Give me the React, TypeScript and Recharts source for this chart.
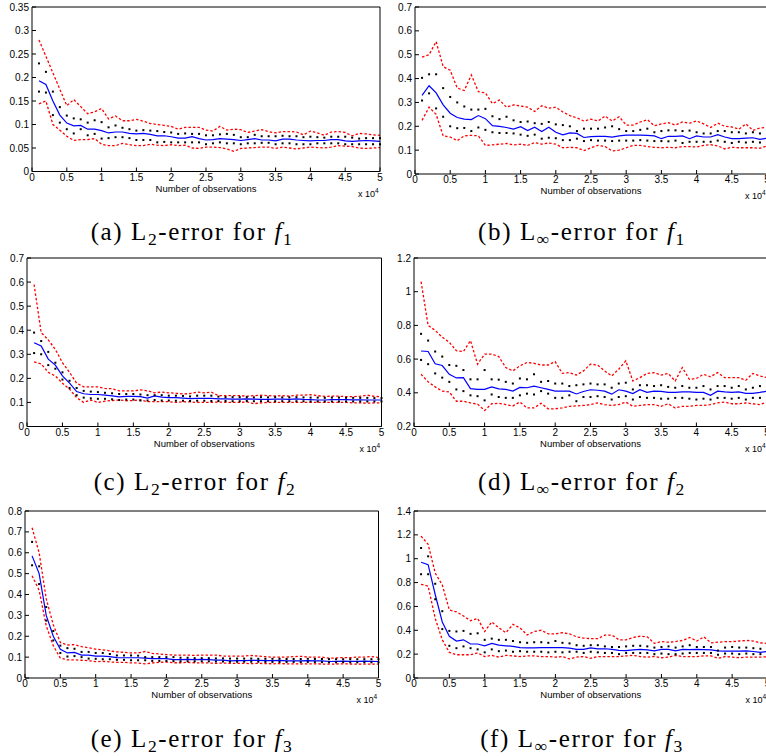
import React from 'react';
import { LineChart, Line, XAxis, YAxis, Label } from 'recharts';

// number of observations, in units of 10^4
const obs = [
  0.1, 0.2, 0.3, 0.4, 0.5, 0.6, 0.7, 0.8, 0.9, 1.0,
  1.1, 1.2, 1.3, 1.4, 1.5, 1.6, 1.7, 1.8, 1.9, 2.0,
  2.1, 2.2, 2.3, 2.4, 2.5, 2.6, 2.7, 2.8, 2.9, 3.0,
  3.1, 3.2, 3.3, 3.4, 3.5, 3.6, 3.7, 3.8, 3.9, 4.0,
  4.1, 4.2, 4.3, 4.4, 4.5, 4.6, 4.7, 4.8, 4.9, 5.0,
];
const xTicks = [0, 0.5, 1, 1.5, 2, 2.5, 3, 3.5, 4, 4.5, 5];

// (a) L2-error for f1
const aMean = [0.193,0.185,0.150,0.120,0.103,0.097,0.098,0.090,0.090,0.087, 0.082,0.084,0.084,0.081,0.080,0.081,0.079,0.076,0.076,0.074, 0.071,0.071,0.074,0.070,0.067,0.068,0.070,0.069,0.068,0.066, 0.068,0.070,0.067,0.067,0.065,0.069,0.069,0.067,0.066,0.065, 0.066,0.066,0.068,0.068,0.065,0.064,0.065,0.066,0.065,0.064];
const aRedHi = [0.280,0.245,0.210,0.175,0.140,0.153,0.138,0.123,0.127,0.134, 0.112,0.118,0.108,0.108,0.111,0.107,0.102,0.100,0.098,0.096, 0.090,0.094,0.094,0.094,0.088,0.086,0.096,0.088,0.090,0.089, 0.083,0.086,0.089,0.085,0.082,0.085,0.085,0.084,0.078,0.086, 0.082,0.077,0.084,0.085,0.083,0.076,0.081,0.080,0.078,0.077];
const aRedLo = [0.144,0.150,0.100,0.088,0.075,0.066,0.068,0.068,0.070,0.058, 0.055,0.055,0.060,0.057,0.055,0.055,0.058,0.056,0.055,0.057, 0.055,0.056,0.050,0.049,0.052,0.052,0.051,0.048,0.043,0.049, 0.050,0.051,0.052,0.052,0.049,0.052,0.050,0.048,0.050,0.052, 0.051,0.050,0.052,0.055,0.054,0.053,0.050,0.049,0.050,0.051];
const aDotHi = [0.230,0.212,0.170,0.137,0.119,0.113,0.111,0.104,0.109,0.105, 0.094,0.098,0.093,0.090,0.087,0.088,0.087,0.086,0.084,0.083, 0.080,0.081,0.080,0.080,0.077,0.077,0.079,0.080,0.078,0.073, 0.073,0.078,0.075,0.075,0.075,0.076,0.075,0.075,0.073,0.074, 0.073,0.072,0.074,0.074,0.074,0.072,0.070,0.071,0.071,0.071];
const aDotLo = [0.170,0.168,0.120,0.104,0.090,0.081,0.090,0.077,0.080,0.070, 0.071,0.073,0.073,0.071,0.067,0.067,0.067,0.062,0.063,0.062, 0.062,0.062,0.062,0.062,0.058,0.060,0.062,0.060,0.060,0.058, 0.060,0.060,0.061,0.061,0.058,0.060,0.060,0.058,0.058,0.058, 0.060,0.060,0.060,0.060,0.058,0.058,0.058,0.058,0.058,0.058];

// (b) Linf-error for f1
const bMean = [0.330,0.370,0.340,0.290,0.255,0.237,0.230,0.228,0.245,0.232, 0.203,0.200,0.195,0.188,0.198,0.182,0.196,0.178,0.196,0.175, 0.164,0.172,0.170,0.153,0.157,0.158,0.158,0.155,0.160,0.163, 0.163,0.163,0.162,0.160,0.148,0.158,0.158,0.160,0.148,0.160, 0.155,0.155,0.165,0.155,0.148,0.148,0.150,0.152,0.145,0.150];
const bRedHi = [0.490,0.500,0.555,0.450,0.435,0.360,0.350,0.415,0.345,0.340, 0.295,0.310,0.280,0.290,0.285,0.280,0.262,0.286,0.276,0.280, 0.260,0.245,0.235,0.222,0.230,0.222,0.243,0.222,0.240,0.205, 0.205,0.218,0.228,0.202,0.210,0.215,0.205,0.218,0.213,0.222, 0.210,0.195,0.213,0.200,0.197,0.188,0.210,0.183,0.193,0.195];
const bRedLo = [0.225,0.280,0.250,0.160,0.155,0.140,0.160,0.162,0.160,0.120, 0.122,0.125,0.128,0.122,0.125,0.120,0.132,0.125,0.130,0.125, 0.110,0.112,0.110,0.098,0.110,0.120,0.115,0.097,0.100,0.110, 0.120,0.120,0.115,0.112,0.110,0.112,0.110,0.115,0.115,0.113, 0.120,0.123,0.118,0.105,0.112,0.110,0.110,0.110,0.108,0.118];
const bDotHi = [0.403,0.418,0.418,0.360,0.323,0.300,0.283,0.270,0.270,0.273, 0.242,0.230,0.240,0.225,0.218,0.220,0.213,0.210,0.218,0.208, 0.205,0.200,0.180,0.190,0.190,0.190,0.195,0.200,0.188,0.180, 0.180,0.185,0.190,0.175,0.180,0.183,0.183,0.180,0.182,0.175, 0.170,0.170,0.180,0.180,0.175,0.175,0.170,0.175,0.170,0.175];
const bDotLo = [0.308,0.338,0.275,0.240,0.200,0.192,0.193,0.180,0.195,0.185, 0.175,0.172,0.172,0.170,0.165,0.160,0.165,0.148,0.152,0.150, 0.142,0.142,0.148,0.138,0.142,0.140,0.140,0.138,0.140,0.140, 0.140,0.142,0.140,0.138,0.138,0.137,0.140,0.130,0.135,0.135, 0.135,0.135,0.140,0.135,0.130,0.135,0.132,0.135,0.132,0.135];

// (c) L2-error for f2
const cMean = [0.348,0.335,0.280,0.255,0.210,0.180,0.145,0.136,0.133,0.133, 0.130,0.127,0.123,0.125,0.125,0.124,0.118,0.127,0.122,0.120, 0.120,0.118,0.116,0.117,0.117,0.117,0.115,0.115,0.114,0.114, 0.115,0.114,0.113,0.113,0.114,0.114,0.113,0.115,0.113,0.112, 0.110,0.110,0.112,0.112,0.112,0.111,0.111,0.110,0.110,0.110];
const cRedHi = [0.590,0.390,0.360,0.320,0.265,0.225,0.180,0.165,0.165,0.165, 0.158,0.157,0.148,0.148,0.148,0.152,0.148,0.140,0.143,0.140, 0.138,0.135,0.137,0.143,0.140,0.143,0.128,0.128,0.128,0.128, 0.126,0.128,0.130,0.128,0.127,0.128,0.126,0.130,0.130,0.132, 0.128,0.125,0.126,0.126,0.124,0.124,0.126,0.130,0.125,0.124];
const cRedLo = [0.268,0.260,0.225,0.210,0.180,0.155,0.120,0.100,0.110,0.100, 0.105,0.108,0.110,0.107,0.108,0.110,0.103,0.103,0.103,0.103, 0.100,0.103,0.102,0.100,0.100,0.100,0.102,0.100,0.100,0.100, 0.102,0.095,0.098,0.100,0.100,0.100,0.100,0.100,0.100,0.100, 0.100,0.100,0.100,0.100,0.100,0.098,0.098,0.097,0.098,0.098];
const cDotHi = [0.390,0.355,0.310,0.265,0.225,0.190,0.160,0.148,0.145,0.143, 0.140,0.138,0.135,0.135,0.135,0.133,0.130,0.130,0.130,0.128, 0.128,0.127,0.125,0.128,0.128,0.128,0.124,0.122,0.122,0.122, 0.122,0.121,0.122,0.121,0.122,0.121,0.121,0.122,0.121,0.120, 0.120,0.119,0.120,0.120,0.119,0.119,0.119,0.119,0.118,0.118];
const cDotLo = [0.305,0.300,0.255,0.240,0.195,0.160,0.130,0.120,0.117,0.115, 0.115,0.113,0.110,0.112,0.112,0.108,0.108,0.110,0.108,0.108, 0.107,0.107,0.106,0.107,0.107,0.106,0.106,0.106,0.105,0.105, 0.106,0.105,0.105,0.105,0.105,0.105,0.105,0.105,0.105,0.104, 0.104,0.104,0.104,0.104,0.104,0.104,0.104,0.104,0.104,0.104];

// (d) Linf-error for f2
const dMean = [0.648,0.645,0.572,0.562,0.510,0.488,0.490,0.425,0.420,0.420, 0.435,0.423,0.420,0.410,0.432,0.430,0.440,0.430,0.420,0.410, 0.410,0.410,0.393,0.408,0.418,0.415,0.410,0.392,0.418,0.410, 0.395,0.418,0.403,0.410,0.408,0.403,0.402,0.405,0.405,0.402, 0.402,0.385,0.410,0.405,0.403,0.406,0.397,0.397,0.402,0.410];
const dRedHi = [1.060,0.800,0.770,0.730,0.700,0.650,0.645,0.710,0.570,0.630, 0.630,0.615,0.550,0.530,0.560,0.580,0.575,0.565,0.565,0.585, 0.515,0.520,0.505,0.530,0.570,0.565,0.530,0.500,0.540,0.590, 0.470,0.490,0.515,0.520,0.505,0.515,0.470,0.550,0.480,0.485, 0.510,0.495,0.520,0.490,0.490,0.490,0.475,0.515,0.500,0.490];
const dRedLo = [0.510,0.465,0.435,0.410,0.405,0.350,0.350,0.340,0.333,0.295, 0.335,0.338,0.330,0.322,0.345,0.310,0.310,0.338,0.305,0.305, 0.310,0.320,0.322,0.325,0.330,0.340,0.330,0.325,0.330,0.345, 0.320,0.325,0.330,0.330,0.320,0.335,0.310,0.320,0.320,0.325, 0.325,0.330,0.340,0.345,0.335,0.335,0.340,0.335,0.330,0.345];
const dDotHi = [0.750,0.710,0.645,0.615,0.565,0.560,0.535,0.480,0.480,0.535, 0.480,0.478,0.465,0.455,0.485,0.480,0.510,0.465,0.470,0.455, 0.455,0.440,0.445,0.450,0.455,0.450,0.450,0.430,0.455,0.460, 0.420,0.445,0.445,0.440,0.445,0.435,0.430,0.440,0.430,0.430, 0.440,0.420,0.440,0.440,0.430,0.440,0.420,0.430,0.440,0.430];
const dDotLo = [0.595,0.570,0.515,0.490,0.465,0.420,0.410,0.385,0.380,0.355, 0.390,0.375,0.370,0.370,0.385,0.395,0.390,0.410,0.395,0.370, 0.370,0.385,0.350,0.375,0.375,0.380,0.375,0.360,0.375,0.380, 0.360,0.375,0.370,0.370,0.365,0.365,0.370,0.370,0.365,0.360, 0.365,0.360,0.370,0.370,0.365,0.370,0.360,0.370,0.370,0.370];

// (e) L2-error for f3
const eMean = [0.585,0.500,0.300,0.200,0.138,0.120,0.123,0.110,0.110,0.105, 0.105,0.102,0.098,0.097,0.097,0.097,0.095,0.093,0.093,0.093, 0.088,0.088,0.089,0.088,0.089,0.088,0.086,0.086,0.082,0.083, 0.083,0.084,0.084,0.083,0.083,0.084,0.082,0.082,0.082,0.083, 0.082,0.082,0.079,0.080,0.081,0.080,0.080,0.081,0.080,0.079];
const eRedHi = [0.720,0.600,0.380,0.255,0.170,0.158,0.160,0.150,0.145,0.138, 0.135,0.130,0.125,0.123,0.120,0.120,0.127,0.118,0.115,0.112, 0.110,0.110,0.110,0.108,0.110,0.110,0.110,0.105,0.105,0.105, 0.105,0.108,0.105,0.102,0.100,0.100,0.100,0.102,0.104,0.100, 0.100,0.100,0.095,0.096,0.098,0.097,0.100,0.100,0.103,0.098];
const eRedLo = [0.490,0.420,0.250,0.155,0.095,0.087,0.087,0.085,0.083,0.078, 0.080,0.077,0.075,0.075,0.072,0.072,0.068,0.072,0.075,0.077, 0.073,0.073,0.075,0.073,0.072,0.072,0.070,0.072,0.070,0.070, 0.070,0.069,0.070,0.069,0.068,0.069,0.068,0.068,0.067,0.068, 0.068,0.067,0.066,0.067,0.068,0.067,0.066,0.066,0.067,0.066];
const eDotHi = [0.652,0.535,0.340,0.225,0.155,0.143,0.140,0.125,0.125,0.120, 0.120,0.115,0.108,0.108,0.108,0.107,0.100,0.100,0.100,0.100, 0.100,0.097,0.097,0.095,0.095,0.095,0.094,0.094,0.093,0.093, 0.093,0.093,0.092,0.092,0.092,0.092,0.091,0.091,0.091,0.092, 0.091,0.091,0.090,0.090,0.090,0.090,0.090,0.090,0.090,0.090];
const eDotLo = [0.540,0.450,0.275,0.180,0.120,0.103,0.105,0.100,0.093,0.092, 0.090,0.090,0.087,0.087,0.085,0.085,0.085,0.082,0.082,0.082, 0.081,0.080,0.080,0.080,0.080,0.080,0.079,0.079,0.078,0.078, 0.078,0.078,0.078,0.077,0.077,0.077,0.077,0.077,0.076,0.077, 0.076,0.076,0.075,0.075,0.076,0.075,0.075,0.075,0.075,0.075];

// (f) Linf-error for f3
const fMean = [0.970,0.950,0.700,0.470,0.350,0.310,0.320,0.285,0.285,0.270, 0.290,0.275,0.270,0.265,0.255,0.252,0.252,0.255,0.255,0.255, 0.255,0.250,0.240,0.240,0.252,0.245,0.245,0.240,0.232,0.230, 0.235,0.240,0.235,0.228,0.240,0.240,0.228,0.240,0.238,0.240, 0.238,0.235,0.228,0.225,0.225,0.225,0.228,0.222,0.215,0.222];
const fRedHi = [1.190,1.120,0.880,0.780,0.570,0.555,0.520,0.480,0.500,0.390, 0.470,0.420,0.380,0.450,0.420,0.360,0.390,0.400,0.370,0.370, 0.380,0.370,0.345,0.335,0.330,0.330,0.360,0.360,0.320,0.320, 0.340,0.350,0.345,0.290,0.305,0.300,0.305,0.315,0.340,0.310, 0.345,0.295,0.300,0.305,0.305,0.310,0.315,0.310,0.295,0.290];
const fRedLo = [0.785,0.770,0.500,0.320,0.215,0.195,0.195,0.195,0.210,0.180, 0.190,0.175,0.190,0.185,0.180,0.185,0.185,0.180,0.180,0.175, 0.180,0.160,0.175,0.180,0.165,0.180,0.180,0.180,0.180,0.185, 0.190,0.180,0.175,0.180,0.170,0.175,0.190,0.180,0.180,0.180, 0.185,0.185,0.165,0.180,0.175,0.170,0.175,0.175,0.175,0.178];
const fDotHi = [1.090,1.020,0.790,0.560,0.395,0.390,0.395,0.370,0.375,0.320, 0.330,0.320,0.320,0.310,0.300,0.295,0.300,0.300,0.295,0.310, 0.295,0.290,0.275,0.270,0.275,0.275,0.265,0.260,0.260,0.265, 0.270,0.270,0.265,0.255,0.260,0.265,0.255,0.265,0.275,0.260, 0.260,0.260,0.230,0.255,0.260,0.255,0.255,0.250,0.245,0.250];
const fDotLo = [0.870,0.870,0.660,0.410,0.270,0.250,0.265,0.250,0.240,0.215, 0.240,0.225,0.230,0.220,0.225,0.220,0.220,0.220,0.215,0.220, 0.215,0.220,0.220,0.210,0.220,0.215,0.210,0.210,0.200,0.210, 0.210,0.210,0.210,0.200,0.205,0.200,0.200,0.205,0.210,0.210, 0.210,0.210,0.195,0.205,0.205,0.200,0.205,0.200,0.200,0.200];

const ticks035 = [0, 0.05, 0.1, 0.15, 0.2, 0.25, 0.3, 0.35];
const ticks07 = [0, 0.1, 0.2, 0.3, 0.4, 0.5, 0.6, 0.7];
const ticks08 = [0, 0.1, 0.2, 0.3, 0.4, 0.5, 0.6, 0.7, 0.8];
const ticks12 = [0.2, 0.4, 0.6, 0.8, 1, 1.2];
const ticks14 = [0, 0.2, 0.4, 0.6, 0.8, 1, 1.2, 1.4];

const sans = '"Liberation Sans", Arial, Helvetica, sans-serif';
const serif = '"Liberation Serif", "Times New Roman", serif';

const PAD_L = 40;
const PAD_T = 10;
const PAD_R = 30;
const PAD_B = 40;

// plot boxes [left, top, right, bottom] in page pixels
const panels = [
  { key: 'a', box: [32, 6.5, 380, 171], ticks: ticks035, mean: aMean, redHi: aRedHi, redLo: aRedLo, dotHi: aDotHi, dotLo: aDotLo, norm: '2', fn: '1', capX: 192, capY: 240 },
  { key: 'b', box: [415, 6.5, 767, 173.5], ticks: ticks07, mean: bMean, redHi: bRedHi, redLo: bRedLo, dotHi: bDotHi, dotLo: bDotLo, norm: '∞', fn: '1', capX: 582, capY: 240 },
  { key: 'c', box: [27, 257.5, 381.5, 426], ticks: ticks07, mean: cMean, redHi: cRedHi, redLo: cRedLo, dotHi: cDotHi, dotLo: cDotLo, norm: '2', fn: '2', capX: 195, capY: 490 },
  { key: 'd', box: [414, 257.5, 767, 426], ticks: ticks12, mean: dMean, redHi: dRedHi, redLo: dRedLo, dotHi: dDotHi, dotLo: dDotLo, norm: '∞', fn: '2', capX: 582, capY: 490 },
  { key: 'e', box: [25, 510.5, 378.5, 677.5], ticks: ticks08, mean: eMean, redHi: eRedHi, redLo: eRedLo, dotHi: eDotHi, dotLo: eDotLo, norm: '2', fn: '3', capX: 192, capY: 747 },
  { key: 'f', box: [413.5, 510.5, 767, 677.5], ticks: ticks14, mean: fMean, redHi: fRedHi, redLo: fRedLo, dotHi: fDotHi, dotLo: fDotLo, norm: '∞', fn: '3', capX: 582, capY: 747 },
];

const fmt = (v: number) => String(Number(v.toFixed(2)));

const renderDot = (props: any) => {
  const { cx, cy, index, dataKey } = props;
  if (cx == null || cy == null) return <g key={`${dataKey}-${index}`} />;
  return <rect key={`${dataKey}-${index}`} x={cx - 1} y={cy - 1} width={2} height={2} fill="#000" />;
};

const xAxisText = (props: any) => {
  const vb = props.viewBox || {};
  const x = vb.x || 0;
  const y = vb.y || 0;
  const w = vb.width || 0;
  return (
    <g>
      <text x={x + w / 2} y={y + 20} textAnchor="middle" fontFamily={sans} fontSize={9.5} fill="#000">
        Number of observations
      </text>
      <text x={x + w - 22} y={y + 25} fontFamily={sans} fontSize={9} fill="#000">
        x 10<tspan dy={-4} fontSize={6.5}>4</tspan>
      </text>
    </g>
  );
};

function ErrorPanel({ p }: { p: any }) {
  const [x0, y0, x1, y1] = p.box;
  const w = x1 - x0 + PAD_L + PAD_R;
  const h = y1 - y0 + PAD_T + PAD_B;
  const rows = obs.map((x, i) => ({
    x,
    redHi: p.redHi[i],
    dotHi: p.dotHi[i],
    mean: p.mean[i],
    dotLo: p.dotLo[i],
    redLo: p.redLo[i],
  }));
  const domain = [p.ticks[0], p.ticks[p.ticks.length - 1]];
  const tickStyle = { fill: '#000', fontSize: 10, fontFamily: sans };
  return (
    <div style={{ position: 'absolute', left: x0 - PAD_L, top: y0 - PAD_T }}>
      <LineChart width={w} height={h} data={rows} margin={{ top: PAD_T - 1, right: PAD_R - 1, left: 0, bottom: 0 }}>
        <XAxis dataKey="x" type="number" domain={[0, 5]} ticks={xTicks} interval={0} tickFormatter={fmt}
          tickSize={-4} tickMargin={6} height={PAD_B} stroke="#000" tick={tickStyle}>
          <Label content={xAxisText} />
        </XAxis>
        <XAxis xAxisId="top" orientation="top" type="number" domain={[0, 5]} ticks={xTicks} interval={0}
          tickSize={-4} height={1} tick={false} stroke="#000" />
        <YAxis type="number" domain={domain} ticks={p.ticks} interval={0} tickFormatter={fmt}
          tickSize={-4} tickMargin={7} width={PAD_L} stroke="#000" tick={tickStyle} />
        <YAxis yAxisId="right" orientation="right" type="number" domain={domain} ticks={p.ticks} interval={0}
          tickSize={-4} width={1} tick={false} stroke="#000" />
        <Line dataKey="redHi" stroke="#ff0000" strokeWidth={1.3} strokeDasharray="2.5 2" dot={false} activeDot={false} isAnimationActive={false} />
        <Line dataKey="redLo" stroke="#ff0000" strokeWidth={1.3} strokeDasharray="2.5 2" dot={false} activeDot={false} isAnimationActive={false} />
        <Line dataKey="dotHi" stroke="none" dot={renderDot} activeDot={false} isAnimationActive={false} />
        <Line dataKey="dotLo" stroke="none" dot={renderDot} activeDot={false} isAnimationActive={false} />
        <Line dataKey="mean" stroke="#0000ff" strokeWidth={1.2} dot={false} activeDot={false} isAnimationActive={false} />
      </LineChart>
    </div>
  );
}

function Caption({ p }: { p: any }) {
  const sub = { fontSize: '0.7em', verticalAlign: '-0.28em', lineHeight: 0 };
  return (
    <div style={{
      position: 'absolute', left: p.capX - 190, width: 380, top: p.capY - 21, textAlign: 'center',
      fontFamily: serif, fontSize: 25, lineHeight: '25px', letterSpacing: 1.6, whiteSpace: 'nowrap', color: '#000',
    }}>
      ({p.key}) L<span style={sub}>{p.norm}</span>-error for <i>f</i><span style={sub}>{p.fn}</span>
    </div>
  );
}

export default function App() {
  return (
    <div style={{ position: 'absolute', left: 0, top: 0, width: 766, height: 756, overflow: 'hidden', background: '#fff' }}>
      {panels.map((p) => (
        <React.Fragment key={p.key}>
          <ErrorPanel p={p} />
          <Caption p={p} />
        </React.Fragment>
      ))}
    </div>
  );
}
